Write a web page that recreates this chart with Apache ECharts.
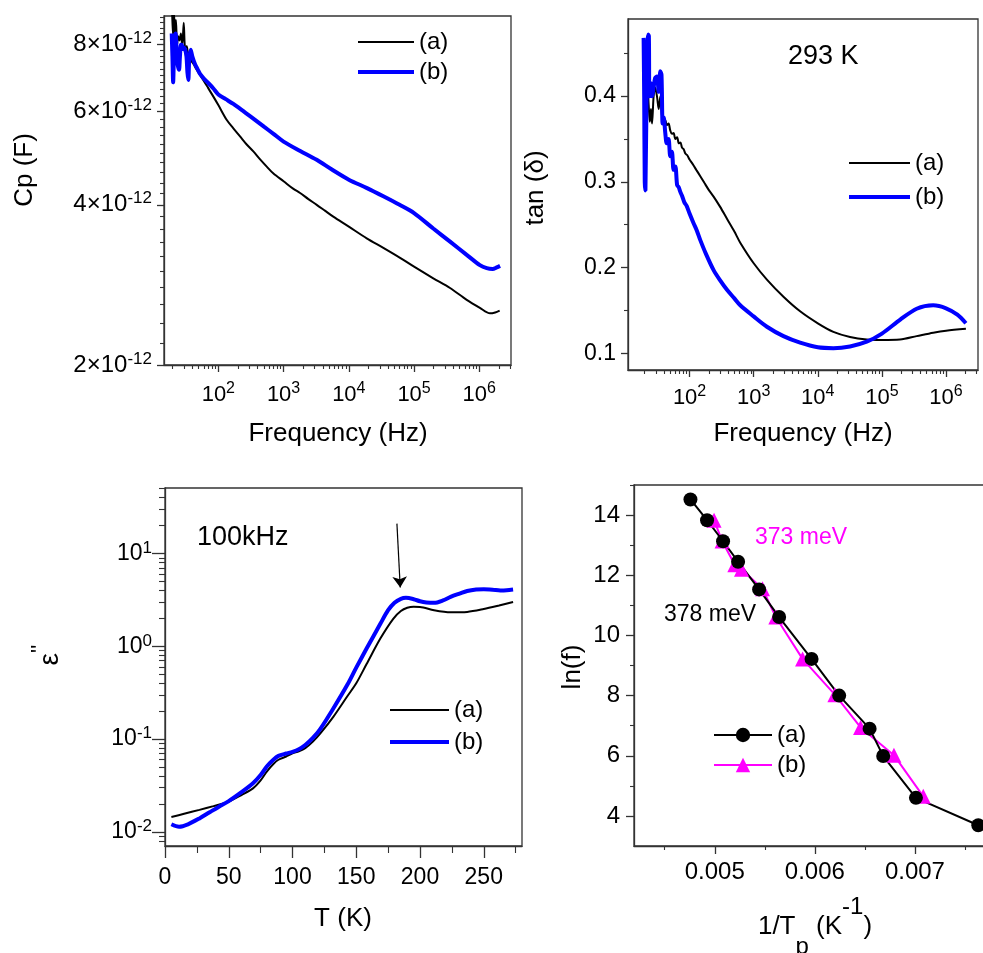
<!DOCTYPE html>
<html>
<head>
<meta charset="utf-8">
<script src="https://cdn.jsdelivr.net/npm/echarts@6/dist/echarts.min.js"></script>
<style>
html, body { margin: 0; padding: 0; background: #fff; }
#main { width: 983px; height: 953px; }
</style>
</head>
<body>
<div id="main"></div>
<script>
var FONT = '"Liberation Sans", Arial, sans-serif';
var FRAME = '#333';
var INK = '#000';
var BLUE = '#0000ff';
var MAGENTA = '#ff00ff';

// --- top left : Cp vs frequency (Cp kept in units of 1e-12 F) ---
var cpFreqA = [19.5, 20.2, 20.9, 21.6, 22.4, 23.3, 24.3, 25.5, 26.7, 28.0, 29.5, 31.0, 32.8, 34.5, 36.5, 39, 42, 46, 52, 60,
  70, 84, 100, 134, 170, 215, 270, 344, 430, 552, 700, 1000, 1400, 1790, 2400, 3220, 4300, 5780, 1e4, 1.88e4,
  3.38e4, 6.1e4, 1e5, 1.97e5, 3.56e5, 6.41e5, 1.02e6, 1.46e6, 1.75e6, 2.05e6];
var cpValA = [9.4, 8.3, 9.2, 8.4, 8.9, 8.0, 8.3, 8.15, 8.4, 7.95, 8.8, 7.9, 7.95, 7.65, 7.75, 7.45, 7.35, 7.2, 7.03, 6.84,
  6.63, 6.39, 6.16, 5.78, 5.57, 5.38, 5.2, 5.04, 4.88, 4.72, 4.58, 4.43, 4.29, 4.21, 4.10, 4.0, 3.9, 3.80, 3.64, 3.46,
  3.32, 3.18, 3.06, 2.91, 2.79, 2.65, 2.56, 2.50, 2.51, 2.53];
var cpFreqB = [19.3, 19.8, 20.3, 20.9, 21.5, 22.2, 22.9, 23.6, 24.3, 25.0, 25.8, 26.7, 27.5, 28.5, 29.5, 31, 32.5, 33.6, 34.7, 35.8,
  37.7, 40, 44, 48, 52.4, 60, 70, 84, 100, 130, 170, 250, 344, 500, 700, 1000, 1800, 3220, 5500, 1e4,
  1.9e4, 3.38e4, 6e4, 1e5, 1.97e5, 3.56e5, 6.41e5, 1.02e6, 1.3e6, 1.6e6, 1.85e6, 2.08e6];
var cpValB = [8.4, 7.6, 6.8, 7.7, 8.3, 8.4, 7.8, 7.4, 7.25, 7.18, 7.6, 8.0, 8.0, 7.85, 7.9, 7.83, 7.6, 7.1, 6.87, 7.5,
  7.83, 7.6, 7.35, 7.2, 7.05, 6.91, 6.78, 6.62, 6.45, 6.32, 6.19, 5.98, 5.81, 5.61, 5.44, 5.26, 5.05, 4.86, 4.66, 4.46,
  4.30, 4.15, 4.0, 3.86, 3.61, 3.41, 3.22, 3.08, 3.04, 3.03, 3.05, 3.07];

// --- top right : tan(delta) vs frequency ---
var tanFreqA = [20, 21, 22, 23, 24, 25, 26, 27.5, 29, 31, 33, 35, 37, 39, 41.8, 44, 47, 50, 53, 56.4,
  60, 64, 68, 72, 76.2, 81, 86, 92, 100, 108, 117, 128, 147, 170, 200, 237, 300, 383, 500, 617,
  1000, 1607, 2913, 5297, 1e4, 1.75e4, 3.18e4, 5.79e4, 1e5, 1.91e5, 3.48e5, 6.31e5, 1e6, 2.04e6];
var tanValA = [0.41, 0.40, 0.415, 0.39, 0.37, 0.385, 0.368, 0.40, 0.41, 0.40, 0.385, 0.40, 0.378, 0.372, 0.372, 0.366, 0.368, 0.36, 0.356, 0.357,
  0.350, 0.352, 0.345, 0.346, 0.340, 0.338, 0.333, 0.331, 0.326, 0.3225, 0.3184, 0.3137, 0.3066, 0.2989, 0.2904, 0.2828, 0.2708, 0.257, 0.242, 0.229,
  0.205, 0.186, 0.166, 0.149, 0.135, 0.125, 0.119, 0.116, 0.1155, 0.116, 0.120, 0.124, 0.1264, 0.1287];
var tanFreqB = [19.2, 19.6, 20.0, 20.5, 20.9, 21.4, 22.0, 22.6, 23.2, 23.6, 24.2, 25.0, 26.0, 27.5, 29, 31, 33, 35, 36.5, 38,
  39.5, 41.8, 44, 47, 50, 53, 56.4, 60, 64, 67.5, 72, 77, 83, 90, 100, 115, 130, 147, 180, 237,
  300, 383, 500, 617, 1000, 1607, 2913, 5297, 1e4, 1.75e4, 3.18e4, 5.79e4, 1e5, 1.91e5, 3.48e5, 6.31e5, 1e6, 1.5e6, 2.04e6];
var tanValB = [0.468, 0.40, 0.30, 0.29, 0.29, 0.40, 0.46, 0.472, 0.47, 0.40, 0.40, 0.415, 0.40, 0.41, 0.421, 0.423, 0.405, 0.429, 0.425, 0.368,
  0.375, 0.357, 0.345, 0.35, 0.33, 0.335, 0.314, 0.318, 0.296, 0.294, 0.288, 0.283, 0.276, 0.272, 0.263, 0.252, 0.243, 0.232, 0.216, 0.197,
  0.185, 0.174, 0.164, 0.156, 0.143, 0.131, 0.120, 0.1124, 0.107, 0.106, 0.108, 0.1135, 0.123, 0.139, 0.152, 0.156, 0.1525, 0.145, 0.135];

// --- bottom left : eps'' vs T at 100 kHz ---
var epsTempA = [5, 15, 27, 38, 50, 60, 69, 75, 80, 85, 89, 95, 100, 105, 110, 116, 122, 132, 143, 150,
  158, 169, 179, 185, 190, 195, 200, 211, 224, 237, 250, 262, 273];
var epsValA = [0.0145, 0.0157, 0.0173, 0.019, 0.0212, 0.025, 0.0295, 0.036, 0.045, 0.054, 0.06, 0.065, 0.0703, 0.074, 0.08, 0.094, 0.116, 0.174, 0.29, 0.40,
  0.64, 1.22, 1.98, 2.4, 2.6, 2.67, 2.66, 2.45, 2.33, 2.35, 2.52, 2.75, 3.0];
var epsTempB = [5, 11, 18, 27, 35, 42, 50, 60, 69, 75, 80, 85, 89, 95, 100, 105, 110, 116, 122, 132,
  143, 150, 158, 169, 175, 180, 185, 189, 195, 200, 205, 211, 218, 224, 231, 237, 244, 250, 257, 263, 268, 273];
var epsValB = [0.0121, 0.0114, 0.0121, 0.014, 0.0163, 0.0186, 0.0215, 0.0268, 0.0334, 0.041, 0.051, 0.06, 0.066, 0.07, 0.0731, 0.078, 0.0865, 0.103, 0.13, 0.214,
  0.385, 0.59, 0.94, 1.76, 2.45, 2.95, 3.25, 3.33, 3.22, 3.06, 2.97, 2.94, 3.12, 3.41, 3.7, 3.95, 4.1, 4.13, 4.08, 4.0, 4.02, 4.09];

// --- bottom right : ln(f) vs 1/Tp ---
var invTA = [0.004757, 0.004923, 0.005083, 0.005233, 0.005443, 0.005643, 0.005967, 0.006243, 0.006547, 0.006683, 0.007010, 0.007633];
var lnfA = [14.52, 13.83, 13.13, 12.45, 11.53, 10.61, 9.22, 8.00, 6.90, 5.99, 4.60, 3.69];
var invTB = [0.004993, 0.005073, 0.0052, 0.005267, 0.005477, 0.00561, 0.005877, 0.0062, 0.006457, 0.00679, 0.007083];
var lnfB = [13.83, 13.14, 12.35, 12.20, 11.55, 10.61, 9.22, 8.03, 6.94, 6.02, 4.65];

// tick values
var freqTicks = [1e2, 1e3, 1e4, 1e5, 1e6];
var cpTicks = [2, 4, 6, 8];
var tanTicks = [0.1, 0.2, 0.3, 0.4];
var tanMinor = [0.15, 0.25, 0.35, 0.45];
var tempTicks = [0, 50, 100, 150, 200, 250];
var tempMinor = [25, 75, 125, 175, 225, 275];
var epsTicks = [0.01, 0.1, 1, 10];
var invTTicks = [0.005, 0.006, 0.007];
var invTMinor = [0.0045, 0.0055, 0.0065, 0.0075];
var lnfTicks = [4, 6, 8, 10, 12, 14];
var lnfMinor = [5, 7, 9, 11, 13, 15];

function logMinor(lo, hi) {
	var out = [];
	for (var e = Math.floor(Math.log10(lo)); e <= Math.ceil(Math.log10(hi)); e++) {
		for (var k = 2; k <= 9; k++) {
			var v = k * Math.pow(10, e);
			if (v > lo && v < hi) out.push(v);
		}
	}
	return out;
}

function cpMinorTicks() {
	var out = [];
	for (var i = 11; i <= 45; i++) {
		if (i % 10 != 0) out.push(i / 5);
	}
	return out;
}

function pairs(xs, ys) {
	return xs.map(function (x, i) { return [x, ys[i]]; });
}

function supRich(base, sup) {
	return {
		b: {fontSize: base, fontFamily: FONT, color: INK, lineHeight: base + 5},
		s: {fontSize: sup, fontFamily: FONT, color: INK, lineHeight: sup + 1, verticalAlign: 'top'}
	};
}

function powLabel(v) {
	var e = Math.round(Math.log10(v));
	return '{b|10}{s|' + e + '}';
}

function mainAxis(g, type, pos, min, max, ticks, tickLen, label) {
	var lab = {show: true, customValues: ticks, color: INK, fontFamily: FONT};
	for (var k in label) lab[k] = label[k];
	return {
		type: type, gridIndex: g, position: pos, min: min, max: max,
		axisLine: {show: true, onZero: false, lineStyle: {color: FRAME, width: 1.3}},
		axisTick: {show: true, inside: false, length: tickLen, customValues: ticks, lineStyle: {color: FRAME, width: 1.3}},
		axisLabel: lab,
		splitLine: {show: false}, minorTick: {show: false}, minorSplitLine: {show: false}
	};
}

function minorAxis(g, type, pos, min, max, ticks, tickLen) {
	return {
		type: type, gridIndex: g, position: pos, min: min, max: max,
		axisLine: {show: false, onZero: false},
		axisTick: {show: true, inside: false, length: tickLen, customValues: ticks, lineStyle: {color: FRAME, width: 1.1}},
		axisLabel: {show: false},
		splitLine: {show: false}, minorTick: {show: false}
	};
}

function txt(s, x, y, size, color, rot, align, rich) {
	var el = {
		type: 'text', x: x, y: y, rotation: rot || 0, z: 100,
		style: {
			text: s, fontSize: size, fontFamily: FONT, fill: color,
			align: align || 'center', verticalAlign: 'middle',
			textAlign: align || 'center', textVerticalAlign: 'middle'
		}
	};
	if (rich) el.style.rich = rich;
	return el;
}

function legendAt(names, left, top, iconW, iconH, gap, hideSymbol) {
	var lg = {
		data: names, orient: 'vertical', left: left, top: top, padding: 0,
		itemWidth: iconW, itemHeight: iconH, itemGap: gap, selectedMode: false,
		lineStyle: {width: 'inherit'},
		formatter: function (name) { return name.slice(name.length - 3); },
		textStyle: {fontSize: 24, fontFamily: FONT, color: INK, lineHeight: 30, padding: [0, 0, 0, 0]}
	};
	if (hideSymbol) lg.itemStyle = {opacity: 0};
	return lg;
}

var gridBase = {show: true, borderColor: FRAME, borderWidth: 1.3, backgroundColor: 'transparent', containLabel: false, outerBoundsMode: 'none'};
function gridAt(left, top, width, height) {
	var g = {left: left, top: top, width: width, height: height};
	for (var k in gridBase) g[k] = gridBase[k];
	return g;
}

var cpX = [14.7, 3.06e6], tanX = [10.96, 3.15e6];
var cpY = [1.999, 9.06], tanY = [0.0805, 0.490];
var tempX = [0, 280], epsY = [0.00706, 50.8];
var invX = [0.004193, 0.0078], lnfY = [3, 15];

var option = {
	animation: false,
	backgroundColor: '#fff',
	grid: [
		gridAt(164, 16, 347, 349),
		gridAt(628, 19, 350, 351),
		gridAt(165, 488, 357, 358),
		gridAt(634, 485, 361, 361)
	],
	xAxis: [
		mainAxis(0, 'log', 'bottom', cpX[0], cpX[1], freqTicks, 7, {margin: 16, formatter: powLabel, rich: supRich(22, 16)}),
		minorAxis(0, 'log', 'bottom', cpX[0], cpX[1], logMinor(cpX[0], cpX[1]), 4),
		mainAxis(1, 'log', 'bottom', tanX[0], tanX[1], freqTicks, 7, {margin: 14, formatter: powLabel, rich: supRich(22, 16)}),
		minorAxis(1, 'log', 'bottom', tanX[0], tanX[1], logMinor(tanX[0], tanX[1]), 4),
		mainAxis(2, 'value', 'bottom', tempX[0], tempX[1], tempTicks, 12, {margin: 19, fontSize: 23, lineHeight: 26}),
		minorAxis(2, 'value', 'bottom', tempX[0], tempX[1], tempMinor, 7),
		mainAxis(3, 'value', 'bottom', invX[0], invX[1], invTTicks, 8, {margin: 13, fontSize: 24, lineHeight: 26,
			formatter: function (v) { return v.toFixed(3); }}),
		minorAxis(3, 'value', 'bottom', invX[0], invX[1], invTMinor, 4)
	],
	yAxis: [
		mainAxis(0, 'log', 'left', cpY[0], cpY[1], cpTicks, 7, {margin: 12, rich: supRich(24, 17),
			formatter: function (v) { return '{b|' + Math.round(v) + '×10}{s|-12}'; }}),
		minorAxis(0, 'log', 'left', cpY[0], cpY[1], cpMinorTicks(), 4),
		mainAxis(1, 'value', 'left', tanY[0], tanY[1], tanTicks, 7, {margin: 12, fontSize: 23,
			formatter: function (v) { return v.toFixed(1); }}),
		minorAxis(1, 'value', 'left', tanY[0], tanY[1], tanMinor, 4),
		mainAxis(2, 'log', 'left', epsY[0], epsY[1], epsTicks, 13, {margin: 13, formatter: powLabel, rich: supRich(23, 17)}),
		minorAxis(2, 'log', 'left', epsY[0], epsY[1], logMinor(epsY[0], epsY[1]), 6),
		mainAxis(3, 'value', 'left', lnfY[0], lnfY[1], lnfTicks, 8, {margin: 14, fontSize: 24}),
		minorAxis(3, 'value', 'left', lnfY[0], lnfY[1], lnfMinor, 4)
	],
	legend: [
		legendAt(['Cp (a)', 'Cp (b)'], 356, 27, 56, 14, 0, true),
		legendAt(['tan (a)', 'tan (b)'], 847, 148, 61, 14, 4, true),
		legendAt(['eps (a)', 'eps (b)'], 388, 695, 59, 14, 2, true),
		legendAt(['Arr (a)', 'Arr (b)'], 713, 720, 58, 18, 0, false)
	],
	series: [
		{name: 'Cp (a)', type: 'line', xAxisIndex: 0, yAxisIndex: 0, data: pairs(cpFreqA, cpValA), smooth: 0.3,
			symbol: 'none', lineStyle: {color: INK, width: 2}, itemStyle: {color: INK}},
		{name: 'Cp (b)', type: 'line', xAxisIndex: 0, yAxisIndex: 0, data: pairs(cpFreqB, cpValB), smooth: 0.3,
			symbol: 'none', lineStyle: {color: BLUE, width: 4}, itemStyle: {color: BLUE}},
		{name: 'tan (a)', type: 'line', xAxisIndex: 2, yAxisIndex: 2, data: pairs(tanFreqA, tanValA), smooth: 0.3,
			symbol: 'none', lineStyle: {color: INK, width: 2}, itemStyle: {color: INK}},
		{name: 'tan (b)', type: 'line', xAxisIndex: 2, yAxisIndex: 2, data: pairs(tanFreqB, tanValB), smooth: 0.3,
			symbol: 'none', lineStyle: {color: BLUE, width: 4}, itemStyle: {color: BLUE}},
		{name: 'eps (a)', type: 'line', xAxisIndex: 4, yAxisIndex: 4, data: pairs(epsTempA, epsValA), smooth: 0.3,
			symbol: 'none', lineStyle: {color: INK, width: 2}, itemStyle: {color: INK},
			markLine: {
				silent: true, symbol: ['none', 'arrow'], symbolSize: 11,
				lineStyle: {color: INK, width: 1.2, type: 'solid'}, label: {show: false},
				data: [[{coord: [181.9, 21]}, {coord: [184.5, 4.3]}]]
			}},
		{name: 'eps (b)', type: 'line', xAxisIndex: 4, yAxisIndex: 4, data: pairs(epsTempB, epsValB), smooth: 0.3,
			symbol: 'none', lineStyle: {color: BLUE, width: 4}, itemStyle: {color: BLUE}},
		{name: 'Arr (b)', type: 'line', xAxisIndex: 6, yAxisIndex: 6, data: pairs(invTB, lnfB),
			symbol: 'triangle', symbolSize: 15, lineStyle: {color: MAGENTA, width: 2}, itemStyle: {color: MAGENTA}},
		{name: 'Arr (a)', type: 'line', xAxisIndex: 6, yAxisIndex: 6, data: pairs(invTA, lnfA),
			symbol: 'circle', symbolSize: 14, lineStyle: {color: INK, width: 2}, itemStyle: {color: INK}}
	],
	graphic: [
		txt('Cp (F)', 25, 170, 26, INK, Math.PI / 2),
		txt('Frequency (Hz)', 338, 434, 26, INK),
		txt('Frequency (Hz)', 803, 434, 26, INK),
		txt('tan (δ)', 536, 188, 26, INK, Math.PI / 2),
		txt('{a|ε}{s|\'\'}', 50, 655, 28, INK, Math.PI / 2, 'center', {
			a: {fontSize: 28, fontFamily: FONT, fill: INK, lineHeight: 42},
			s: {fontSize: 22, fontFamily: FONT, fill: INK, lineHeight: 18, verticalAlign: 'top'}
		}),
		txt('T (K)', 343, 919, 26, INK),
		txt('ln(f)', 573, 667, 26, INK, Math.PI / 2),
		txt('{a|1/T}{sub|p}{a| (K}{sup|-1}{a|)}', 815, 927, 26, INK, 0, 'center', {
			a: {fontSize: 26, fontFamily: FONT, fill: INK, lineHeight: 64},
			sub: {fontSize: 24, fontFamily: FONT, fill: INK, lineHeight: 24, verticalAlign: 'bottom'},
			sup: {fontSize: 24, fontFamily: FONT, fill: INK, lineHeight: 24, verticalAlign: 'top'}
		}),
		txt('293 K', 788, 57, 27, INK, 0, 'left'),
		txt('100kHz', 197, 538, 27, INK, 0, 'left'),
		txt('373 meV', 755, 538, 23, MAGENTA, 0, 'left'),
		txt('378 meV', 664, 615, 23, INK, 0, 'left')
	]
};

var chart = echarts.init(document.getElementById('main'));
chart.setOption(option);
</script>
</body>
</html>
